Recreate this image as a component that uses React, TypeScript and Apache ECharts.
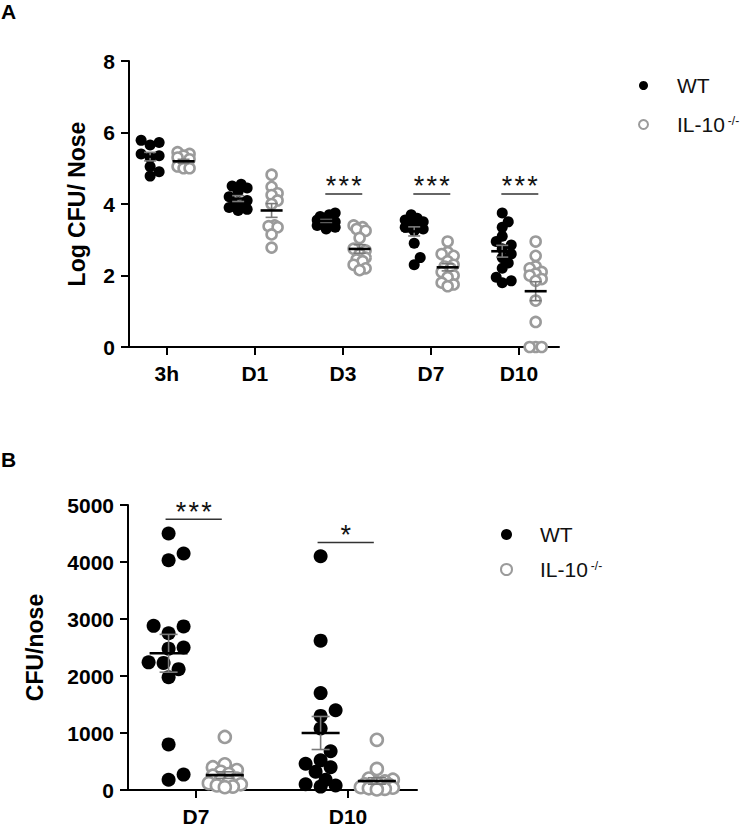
import React, { useEffect, useRef } from "react";
import * as echarts from "echarts";

// ---------- Panel A : Log CFU / Nose ----------
const timepointsA = ["3h", "D1", "D3", "D7", "D10"];
const yTicksA = [0, 2, 4, 6, 8];

const wt3h = [5.78, 5.72, 5.65, 5.4, 5.35, 5.3, 5.05, 4.9, 4.78];
const wtD1 = [4.55, 4.5, 4.45, 4.35, 4.2, 4.1, 4.0, 3.95, 3.9, 3.85, 3.82];
const wtD3 = [3.75, 3.7, 3.65, 3.6, 3.58, 3.55, 3.5, 3.48, 3.45, 3.4, 3.35, 3.3];
const wtD7 = [3.7, 3.6, 3.55, 3.5, 3.45, 3.4, 3.35, 3.3, 3.25, 2.9, 2.5, 2.3];
const wtD10 = [3.75, 3.5, 3.35, 3.1, 2.95, 2.85, 2.75, 2.6, 2.5, 2.35, 2.2, 1.95, 1.85, 1.8];

const ko3h = [5.45, 5.4, 5.35, 5.3, 5.25, 5.1, 5.05, 5.05, 5.0, 5.0];
const koD1 = [4.82, 4.48, 4.3, 4.25, 4.1, 4.0, 3.4, 3.38, 3.35, 3.15, 2.78];
const koD3 = [3.4, 3.35, 3.3, 3.25, 3.05, 2.75, 2.7, 2.6, 2.5, 2.45, 2.4, 2.3, 2.2, 2.15];
const koD7 = [2.95, 2.65, 2.6, 2.55, 2.4, 2.3, 2.25, 2.2, 2.1, 2.0, 1.95, 1.8, 1.75, 1.7];
const koD10 = [2.95, 2.55, 2.25, 2.2, 2.1, 2.05, 2.0, 1.9, 1.85, 1.3, 0.7, 0, 0, 0];

const sigCatsA = [2, 3, 4];
const sigLevelA = [4.28, 4.28, 4.28];
const sigTextA = ["***", "***", "***"];

// ---------- Panel B : CFU / nose ----------
const timepointsB = ["D7", "D10"];
const yTicksB = [0, 1000, 2000, 3000, 4000, 5000];

const wtB_D7 = [4500, 4150, 4030, 2880, 2870, 2750, 2500, 2480, 2240, 2230, 2120, 1980, 800, 270, 180];
const wtB_D10 = [4100, 2620, 1700, 1400, 1300, 1080, 680, 520, 460, 400, 320, 180, 100, 80, 60];
const koB_D7 = [930, 450, 400, 350, 320, 280, 250, 200, 180, 150, 120, 100, 80, 60, 50];
const koB_D10 = [880, 370, 200, 180, 150, 120, 100, 90, 70, 60, 50, 40, 30, 20, 10];

const sigCatsB = [0, 1];
const sigLevelB = [4750, 4340];
const sigTextB = ["***", "*"];

const SERIES_WT = "WT";
const SERIES_KO = "IL-10";

// ---------- style / layout ----------
const FONT = "'Liberation Sans', Arial, sans-serif";
const BLACK = "#000000";
const GRAY = "#9b9b9b";
const ERR = "#7a7a7a";

const gridA = { left: 129, top: 61, width: 430, height: 286 };
const xRangeA = [-0.43, 4.455];
const gridB = { left: 128, top: 505, width: 289, height: 287 };
const xRangeB = [-0.447, 1.454];

function mean(a: number[]) {
  return a.reduce((s, v) => s + v, 0) / a.length;
}
function sem(a: number[]) {
  const m = mean(a);
  const v = a.reduce((s, x) => s + (x - m) * (x - m), 0) / (a.length - 1);
  return Math.sqrt(v) / Math.sqrt(a.length);
}

// beeswarm-like horizontal spreading (pixel offsets) so that dots don't pile up
function swarm(values: number[], pxPerY: number, diam: number, maxOff: number, step: number) {
  const order = values.map((_, i) => i).sort((a, b) => values[a] - values[b]);
  const placed: { x: number; y: number }[] = [];
  const out = new Array(values.length).fill(0);
  for (const i of order) {
    const y = values[i] * pxPerY;
    const cands = [0];
    for (let k = step; k <= maxOff + 1e-6; k += step) cands.push(k, -k);
    let best = 0;
    let bestD = -1;
    for (const c of cands) {
      let minD = Infinity;
      for (const p of placed) {
        const d = Math.hypot(p.x - c, p.y - y);
        if (d < minD) minD = d;
      }
      if (minD >= diam) {
        best = c;
        break;
      }
      if (minD > bestD) {
        bestD = minD;
        best = c;
      }
    }
    placed.push({ x: best, y });
    out[i] = best;
  }
  return out;
}

function buildPoints(
  groups: number[][],
  groupOffset: number,
  pxPerX: number,
  pxPerY: number,
  diam: number,
  maxOff: number,
  step: number
) {
  const pts: number[][] = [];
  groups.forEach((vals, ci) => {
    const offs = swarm(vals, pxPerY, diam, maxOff, step);
    vals.forEach((v, j) => pts.push([ci + groupOffset + offs[j] / pxPerX, v]));
  });
  return pts;
}

function statRows(groups: number[][], groupOffset: number) {
  return groups.map((g, ci) => [ci + groupOffset, mean(g), sem(g)]);
}

function meanSemRenderer(hwMean: number, hwCap: number) {
  return (params: any, api: any) => {
    const x = api.value(0);
    const m = api.value(1);
    const s = api.value(2);
    const c = api.coord([x, m]);
    const t = api.coord([x, m + s]);
    const b = api.coord([x, m - s]);
    const es = { stroke: ERR, lineWidth: 1.6 };
    return {
      type: "group",
      children: [
        { type: "line", shape: { x1: c[0], y1: t[1], x2: c[0], y2: b[1] }, style: es },
        { type: "line", shape: { x1: c[0] - hwCap, y1: t[1], x2: c[0] + hwCap, y2: t[1] }, style: es },
        { type: "line", shape: { x1: c[0] - hwCap, y1: b[1], x2: c[0] + hwCap, y2: b[1] }, style: es },
        { type: "line", shape: { x1: c[0] - hwMean, y1: c[1], x2: c[0] + hwMean, y2: c[1] }, style: { stroke: BLACK, lineWidth: 2.6 } },
      ],
    };
  };
}

function sigRenderer(texts: string[], dl: number, dr: number) {
  return (params: any, api: any) => {
    const cat = api.value(0);
    const lvl = api.value(1);
    const idx = api.value(2);
    const l = api.coord([cat + dl, lvl]);
    const r = api.coord([cat + dr, lvl]);
    return {
      type: "group",
      children: [
        { type: "line", shape: { x1: l[0], y1: l[1], x2: r[0], y2: r[1] }, style: { stroke: "#333", lineWidth: 1.5 } },
        {
          type: "text",
          x: (l[0] + r[0]) / 2,
          y: l[1] - 21,
          style: {
            text: texts[idx].split("").join("\u200A"),
            fill: "#111",
            font: `27px ${FONT}`,
            textAlign: "center",
            textVerticalAlign: "top",
          },
        },
      ],
    };
  };
}

const legendRich = {
  a: { fontSize: 21, fontFamily: FONT, color: "#111", lineHeight: 24 },
  s: { fontSize: 12, fontFamily: FONT, color: "#111", lineHeight: 24, padding: [0, 0, 8, 3] },
};
const legendFormatter = (name: string) => (name === SERIES_KO ? "{a|IL-10}{s|-/-}" : "{a|WT}");

export default function App() {
  const ref = useRef<HTMLDivElement>(null);

  useEffect(() => {
    if (!ref.current) return;
    const chart = echarts.init(ref.current, undefined, { renderer: "svg" });

    const wtA = [wt3h, wtD1, wtD3, wtD7, wtD10];
    const koA = [ko3h, koD1, koD3, koD7, koD10];
    const wtB = [wtB_D7, wtB_D10];
    const koB = [koB_D7, koB_D10];

    const pxXA = gridA.width / (xRangeA[1] - xRangeA[0]);
    const pxYA = gridA.height / (yTicksA[yTicksA.length - 1] - yTicksA[0]);
    const pxXB = gridB.width / (xRangeB[1] - xRangeB[0]);
    const pxYB = gridB.height / (yTicksB[yTicksB.length - 1] - yTicksB[0]);

    const offWA = -0.19, offKA = 0.19;
    const offWB = -0.18, offKB = 0.19;

    const axisLine = { show: true, onZero: false, lineStyle: { color: BLACK, width: 2 } };
    const axisTick = { show: true, inside: false, length: 8, lineStyle: { color: BLACK, width: 2 } };
    const tickLabel = { color: BLACK, fontSize: 21, fontWeight: "bold" as const, fontFamily: FONT };

    const option: any = {
      animation: false,
      backgroundColor: "#ffffff",
      graphic: [
        { type: "text", left: 1, top: 1, style: { text: "A", font: `bold 21px ${FONT}`, fill: BLACK } },
        { type: "text", left: 1, top: 449, style: { text: "B", font: `bold 21px ${FONT}`, fill: BLACK } },
      ],
      legend: [
        {
          orient: "vertical",
          left: 633,
          top: 70,
          itemWidth: 9,
          itemHeight: 9,
          itemGap: 18,
          icon: "circle",
          selectedMode: false,
          data: [SERIES_WT, SERIES_KO],
          formatter: legendFormatter,
          textStyle: { padding: [0, 0, 0, 24], rich: legendRich },
        },
        {
          orient: "vertical",
          left: 495,
          top: 519,
          itemWidth: 11,
          itemHeight: 11,
          itemGap: 14,
          icon: "circle",
          selectedMode: false,
          data: [SERIES_WT, SERIES_KO],
          formatter: legendFormatter,
          textStyle: { padding: [0, 0, 0, 23], rich: legendRich },
        },
      ],
      grid: [
        { ...gridA, containLabel: false },
        { ...gridB, containLabel: false },
      ],
      xAxis: [
        {
          type: "value",
          gridIndex: 0,
          min: xRangeA[0],
          max: xRangeA[1],
          axisLine,
          axisTick: { ...axisTick, customValues: timepointsA.map((_, i) => i) },
          axisLabel: {
            ...tickLabel,
            margin: 16,
            customValues: timepointsA.map((_, i) => i),
            formatter: (v: number) => timepointsA[Math.round(v)] ?? "",
          },
          splitLine: { show: false },
        },
        {
          type: "value",
          gridIndex: 1,
          min: xRangeB[0],
          max: xRangeB[1],
          axisLine,
          axisTick: { ...axisTick, customValues: timepointsB.map((_, i) => i) },
          axisLabel: {
            ...tickLabel,
            margin: 16,
            customValues: timepointsB.map((_, i) => i),
            formatter: (v: number) => timepointsB[Math.round(v)] ?? "",
          },
          splitLine: { show: false },
        },
      ],
      yAxis: [
        {
          type: "value",
          gridIndex: 0,
          min: yTicksA[0],
          max: yTicksA[yTicksA.length - 1],
          interval: yTicksA[1] - yTicksA[0],
          axisLine,
          axisTick,
          axisLabel: { ...tickLabel, margin: 14, formatter: (v: number) => String(v) },
          splitLine: { show: false },
          name: "Log CFU/ Nose",
          nameLocation: "middle",
          nameGap: 41,
          nameTextStyle: { color: BLACK, fontSize: 23, fontWeight: "bold", fontFamily: FONT },
        },
        {
          type: "value",
          gridIndex: 1,
          min: yTicksB[0],
          max: yTicksB[yTicksB.length - 1],
          interval: yTicksB[1] - yTicksB[0],
          axisLine,
          axisTick,
          axisLabel: { ...tickLabel, margin: 14, formatter: (v: number) => String(v) },
          splitLine: { show: false },
          name: "CFU/nose",
          nameLocation: "middle",
          nameGap: 82,
          nameTextStyle: { color: BLACK, fontSize: 23, fontWeight: "bold", fontFamily: FONT },
        },
      ],
      series: [
        {
          name: SERIES_WT,
          type: "scatter",
          xAxisIndex: 0,
          yAxisIndex: 0,
          clip: false,
          symbol: "circle",
          symbolSize: 11,
          itemStyle: { color: BLACK, opacity: 1 },
          data: buildPoints(wtA, offWA, pxXA, pxYA, 8, 9, 3),
          z: 3,
        },
        {
          name: SERIES_KO,
          type: "scatter",
          xAxisIndex: 0,
          yAxisIndex: 0,
          clip: false,
          symbol: "circle",
          symbolSize: 10,
          itemStyle: { color: "#ffffff", borderColor: GRAY, borderWidth: 2.6, opacity: 1 },
          data: buildPoints(koA, offKA, pxXA, pxYA, 8, 8, 3),
          z: 3,
        },
        {
          name: SERIES_WT,
          type: "scatter",
          xAxisIndex: 1,
          yAxisIndex: 1,
          clip: false,
          symbol: "circle",
          symbolSize: 14,
          itemStyle: { color: BLACK, opacity: 1 },
          data: buildPoints(wtB, offWB, pxXB, pxYB, 12.5, 20, 5),
          z: 3,
        },
        {
          name: SERIES_KO,
          type: "scatter",
          xAxisIndex: 1,
          yAxisIndex: 1,
          clip: false,
          symbol: "circle",
          symbolSize: 12,
          itemStyle: { color: "#ffffff", borderColor: GRAY, borderWidth: 2.6, opacity: 1 },
          data: buildPoints(koB, offKB, pxXB, pxYB, 8, 16, 4),
          z: 3,
        },
        {
          type: "custom",
          xAxisIndex: 0,
          yAxisIndex: 0,
          renderItem: meanSemRenderer(11, 6),
          data: [...statRows(wtA, offWA), ...statRows(koA, offKA)],
          z: 5,
          silent: true,
        },
        {
          type: "custom",
          xAxisIndex: 1,
          yAxisIndex: 1,
          renderItem: meanSemRenderer(19, 9),
          data: [...statRows(wtB, offWB), ...statRows(koB, offKB)],
          z: 5,
          silent: true,
        },
        {
          type: "custom",
          xAxisIndex: 0,
          yAxisIndex: 0,
          renderItem: sigRenderer(sigTextA, -0.2, 0.22),
          data: sigCatsA.map((c, i) => [c, sigLevelA[i], i]),
          z: 5,
          silent: true,
        },
        {
          type: "custom",
          xAxisIndex: 1,
          yAxisIndex: 1,
          renderItem: sigRenderer(sigTextB, -0.2, 0.17),
          data: sigCatsB.map((c, i) => [c, sigLevelB[i], i]),
          z: 5,
          silent: true,
        },
      ],
    };

    chart.setOption(option);
    return () => chart.dispose();
  }, []);

  return (
    <div
      ref={ref}
      style={{ position: "fixed", left: 0, top: 0, width: 750, height: 827, background: "#fff" }}
    />
  );
}
